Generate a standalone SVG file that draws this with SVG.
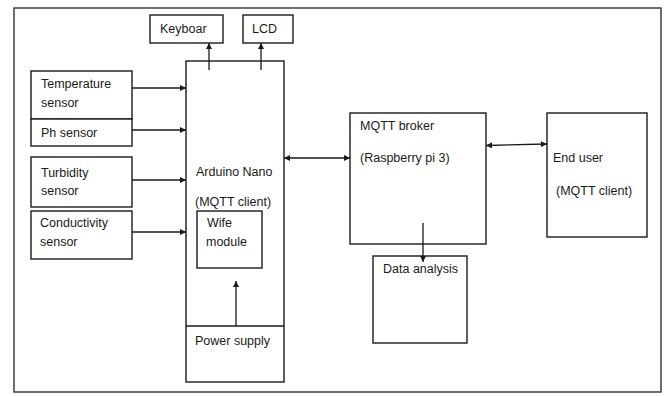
<svg xmlns="http://www.w3.org/2000/svg" width="667" height="396" viewBox="0 0 667 396">
<defs>
<marker id="ah" viewBox="0 0 10 10" refX="10" refY="5" markerWidth="6" markerHeight="6" orient="auto-start-reverse" markerUnits="userSpaceOnUse">
<path d="M0,0 L10,5 L0,10 z" fill="#1a1a1a"/>
</marker>
<style>
.b{fill:#fff;stroke:#1a1a1a;stroke-width:1.4}
.t{font-family:"Liberation Sans",Arial,sans-serif;font-size:12.5px;fill:#1a1a1a}
.c{stroke:#1a1a1a;stroke-width:1.3;fill:none}
</style>
</defs>
<rect x="0" y="0" width="667" height="396" fill="#fff"/>
<rect x="14" y="8" width="647" height="384" fill="none" stroke="#333" stroke-width="1.4"/>
<g id="keyboard"><rect class="b" x="150" y="15" width="73" height="28"/><text class="t" x="160" y="33">Keyboar</text></g>
<g id="lcd"><rect class="b" x="243" y="15" width="50" height="28"/><text class="t" x="252" y="33">LCD</text></g>
<g id="arduino"><rect class="b" x="186" y="61" width="98" height="321"/><line class="c" x1="186" y1="326" x2="284" y2="326"/>
<text class="t" x="196" y="176">Arduino Nano</text><text class="t" x="195" y="206">(MQTT client)</text>
<text class="t" x="195" y="345">Power supply</text></g>
<g id="wifi"><rect class="b" x="197" y="211" width="65" height="57"/><text class="t" x="207" y="227">Wife</text><text class="t" x="206" y="246">module</text></g>
<g id="temp"><rect class="b" x="31" y="71" width="101" height="48"/><text class="t" x="41" y="88">Temperature</text><text class="t" x="41" y="107">sensor</text></g>
<g id="ph"><rect class="b" x="31" y="119" width="101" height="27"/><text class="t" x="41" y="137">Ph sensor</text></g>
<g id="turb"><rect class="b" x="31" y="157" width="101" height="50"/><text class="t" x="41" y="177">Turbidity</text><text class="t" x="41" y="195">sensor</text></g>
<g id="cond"><rect class="b" x="31" y="211" width="101" height="48"/><text class="t" x="40" y="227">Conductivity</text><text class="t" x="40" y="246">sensor</text></g>
<g id="mqtt"><rect class="b" x="350" y="113" width="136" height="131"/><text class="t" x="360" y="130">MQTT broker</text><text class="t" x="360" y="162">(Raspberry pi 3)</text></g>
<g id="enduser"><rect class="b" x="547" y="113" width="100" height="124"/><text class="t" x="553" y="162">End user</text><text class="t" x="556" y="195">(MQTT client)</text></g>
<g id="data"><rect class="b" x="373" y="256" width="94" height="87"/><text class="t" x="383" y="273">Data analysis</text></g>
<g id="connectors">
<line class="c" x1="209" y1="70" x2="209" y2="43" marker-end="url(#ah)"/>
<line class="c" x1="261" y1="70" x2="261" y2="43" marker-end="url(#ah)"/>
<line class="c" x1="132" y1="88" x2="186" y2="88" marker-end="url(#ah)"/>
<line class="c" x1="132" y1="130" x2="186" y2="130" marker-end="url(#ah)"/>
<line class="c" x1="132" y1="180" x2="186" y2="180" marker-end="url(#ah)"/>
<line class="c" x1="132" y1="232" x2="186" y2="232" marker-end="url(#ah)"/>
<line class="c" x1="236" y1="326" x2="236" y2="281" marker-end="url(#ah)"/>
<line class="c" x1="284" y1="158" x2="350" y2="158" marker-start="url(#ah)" marker-end="url(#ah)"/>
<line class="c" x1="486" y1="145.5" x2="547" y2="144" marker-start="url(#ah)" marker-end="url(#ah)"/>
<line class="c" x1="423" y1="223" x2="423" y2="262" marker-end="url(#ah)"/>
</g>
</svg>
